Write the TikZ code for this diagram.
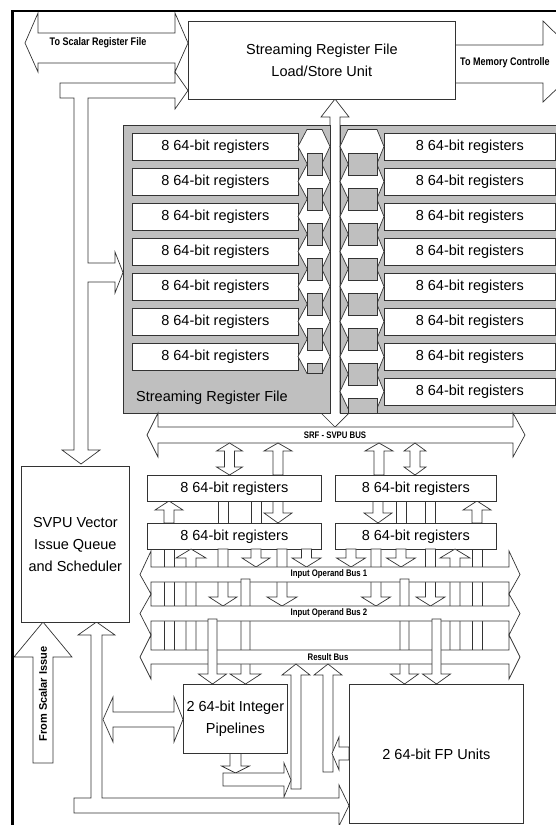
\documentclass[tikz,border=0pt]{standalone}
\usepackage{fontspec}
\setmainfont{Liberation Sans}
\usepackage{graphicx}
\newcommand\buslbl[1]{\scalebox{0.82}[1]{\bfseries\fontsize{9.5}{10}\selectfont #1}}
\newcommand\sidelbl[1]{\scalebox{0.82}[1]{\bfseries\fontsize{11}{12}\selectfont #1}}
% vertical single arrow: cx, half shaft, half head, y start, y head back, y tip
\newcommand\varr[6]{\filldraw[ar] ({#1-#2},#4) -- ({#1+#2},#4) -- ({#1+#2},#5) -- ({#1+#3},#5) -- (#1,#6) -- ({#1-#3},#5) -- ({#1-#2},#5) -- cycle;}
% vertical double arrow: cx, half shaft, half head, tip1, back1, back2, tip2
\newcommand\dvarr[7]{\filldraw[ar] (#1,#4) -- ({#1+#3},#5) -- ({#1+#2},#5) -- ({#1+#2},#6) -- ({#1+#3},#6) -- (#1,#7) -- ({#1-#3},#6) -- ({#1-#2},#6) -- ({#1-#2},#5) -- ({#1-#3},#5) -- cycle;}
\newcommand\vrect[4]{\filldraw[ar] (#1,#3) rectangle (#2,#4);}
\begin{document}
\begin{tikzpicture}[x=1pt,y=-1pt,
  ar/.style={draw=black!80,fill=white,line width=0.7pt},
  sq/.style={draw=black!80,fill=black!25,line width=0.7pt},
  box/.style={draw=black!80,fill=white,line width=0.7pt,inner sep=0pt,anchor=north west},
  reg/.style={box,minimum height=27pt,font=\fontsize{14.5}{16}\selectfont},
  vreg/.style={box,minimum height=26pt,font=\fontsize{14.5}{16}\selectfont},
  big/.style={font=\fontsize{14.5}{22}\selectfont,align=center}]
\useasboundingbox (0,0) rectangle (556,825);
\clip (0,0) rectangle (556,825);
% ---------- top arrows ----------
\filldraw[ar] (25,43) -- (38,13) -- (38,33) -- (175,33) -- (175,13) -- (188,43) -- (175,72) -- (175,63) -- (38,63) -- (38,72) -- cycle;
\node (tsr) at (98,43) {\sidelbl{To Scalar Register File}};
\filldraw[ar] (60,83) -- (175,83) -- (175,72) -- (188,90.5) -- (175,109) -- (175,98) -- (88,98) -- (88,263) -- (115,263) -- (115,252) -- (123,272.5) -- (115,293) -- (115,282) -- (88,282) -- (88,450) -- (100,450) -- (81,464) -- (62,450) -- (74,450) -- (74,98) -- (60,98) -- cycle;
\filldraw[ar] (455,45) -- (543,45) -- (543,21) -- (585,62) -- (543,102) -- (543,83) -- (455,83) -- cycle;
\node[anchor=west,inner sep=0pt] (tmc) at (460,63) {\sidelbl{To Memory Controlle}};
\filldraw[ar] (330,117) -- (321,117) -- (335,99) -- (349,117) -- (340,117) -- (340,413) -- (349,413) -- (335,427) -- (321,413) -- (330,413) -- cycle;
\node[box,minimum width=267pt,minimum height=78pt,align=center,font=\fontsize{14.5}{22}\selectfont] (ls) at (188,21) {Streaming Register File\\Load/Store Unit};
% ---------- streaming register file ----------
\filldraw[sq,fill=black!25] (123,125) rectangle (330,413);
\filldraw[sq,fill=black!25] (340,125) rectangle (575,413);
\foreach \i in {0,...,6} {
  \node[reg,minimum width=166pt] (l\i) at (132,{133+35*\i}) {8 64-bit registers};
  \pgfmathsetmacro\c{146.5+35*\i}
  \filldraw[ar] (298,\c) -- (307,\c-17) -- (322,\c-17) -- (330,\c) -- (322,\c+17) -- (307,\c+17) -- cycle;
}
\foreach \i in {0,...,7} {
  \node[reg,minimum width=171pt] (r\i) at (384,{133+35*\i}) {8 64-bit registers};
  \pgfmathsetmacro\c{146.5+35*\i}
  \filldraw[ar] (340,\c) -- (348,\c-17) -- (377,\c-17) -- (384,\c) -- (377,\c+17) -- (348,\c+17) -- cycle;
}
\foreach \i in {0,...,5} {\pgfmathsetmacro\c{146.5+35*\i}
  \filldraw[sq] (307,\c+6.5) rectangle (322,\c+28.5);}
\filldraw[sq] (307,363) rectangle (322,373.5);
\foreach \i in {0,...,6} {\pgfmathsetmacro\c{146.5+35*\i}
  \filldraw[sq] (348,\c+6.5) rectangle (377,\c+28.5);}
\filldraw[sq] (348,398) rectangle (377,413);
\node[anchor=west,inner sep=0pt,font=\fontsize{14.5}{16}\selectfont] (srfl) at (136,398) {Streaming Register File};
% ---------- SRF - SVPU bus ----------
\filldraw[ar] (147,435) -- (158,413) -- (158,427) -- (513,427) -- (513,413) -- (525,435) -- (513,457) -- (513,443) -- (158,443) -- (158,457) -- cycle;
\node (sbl) at (335,435) {\buslbl{SRF - SVPU BUS}};
% arrows bus -> upper registers
\dvarr{229.5}{5}{13}{443}{451}{467}{475}
\varr{278}{5}{14}{475}{451}{443}
\varr{379}{5}{14}{475}{451}{443}
\dvarr{415}{5}{11}{443}{451}{467}{475}
% between register boxes
\varr{169}{5}{14}{523}{510}{501}
\vrect{218}{228}{501}{523}
\vrect{251}{261}{501}{523}
\varr{278}{5}{14}{501}{513}{523}
\varr{378}{5}{14}{501}{513}{523}
\vrect{396}{406}{501}{523}
\vrect{425}{435}{501}{523}
\varr{477}{5}{14}{523}{510}{501}
\node[vreg,minimum width=174pt] (ul) at (147,475) {8 64-bit registers};
\node[vreg,minimum width=161pt] (ur) at (335,475) {8 64-bit registers};
\node[vreg,minimum width=174pt] (ll) at (147,523) {8 64-bit registers};
\node[vreg,minimum width=161pt] (lr) at (335,523) {8 64-bit registers};
% ---------- channels to the buses ----------
\vrect{164}{174}{549}{653}
\varr{191}{5}{15}{653}{558}{549}
\varr{223}{5}{14}{549}{597}{606}
\varr{256}{5}{14}{549}{558}{567}
\varr{282}{5}{15}{549}{597}{606}
\varr{306.5}{5}{14.5}{549}{558}{567}
\varr{351}{5}{14.5}{549}{558}{567}
\varr{376}{5}{14.5}{549}{597}{606}
\varr{401}{5}{14.5}{549}{558}{567}
\varr{430.5}{5}{14.5}{549}{597}{606}
\varr{455}{5}{15}{653}{558}{549}
\vrect{472}{482}{549}{653}
% bus 1
\filldraw[ar] (140,574.5) -- (151,551) -- (151,567) -- (509,567) -- (509,551) -- (520,574.5) -- (509,594) -- (509,582) -- (151,582) -- (151,594) -- cycle;
\varr{245.5}{4.5}{15.5}{579}{674}{684}
\varr{404.5}{4.5}{14}{579}{674}{684}
% bus 2
\filldraw[ar] (140,613.5) -- (151,594) -- (151,606) -- (509,606) -- (509,594) -- (520,613.5) -- (509,635) -- (509,621) -- (151,621) -- (151,635) -- cycle;
% result bus
\filldraw[ar] (140,657) -- (151,635) -- (151,650) -- (509,650) -- (509,635) -- (520,657) -- (509,679) -- (509,664) -- (151,664) -- (151,679) -- cycle;
\node (b1) at (329,574.5) {\buslbl{Input Operand Bus 1}};
\node (b2) at (329,613.5) {\buslbl{Input Operand Bus 2}};
\node (rb) at (328,657) {\buslbl{Result Bus}};
\varr{212.5}{4.5}{14}{619}{674}{684}
\varr{436.5}{4.5}{14}{619}{674}{684}
% ---------- execution units ----------
\varr{296}{5}{14}{789}{675}{664}
\varr{328}{5}{14}{772}{675}{664}
\filldraw[ar] (349,747) -- (339,747) -- (339,737) -- (332,753.5) -- (339,770) -- (339,760) -- (349,760) -- cycle;
\filldraw[ar] (103,719.5) -- (113,697) -- (113,712) -- (174,712) -- (174,697) -- (183,719.5) -- (174,742) -- (174,727) -- (113,727) -- (113,742) -- cycle;
\varr{235.5}{5.5}{14}{753}{766}{773}
\filldraw[ar] (223,773) -- (284,773) -- (284,763) -- (291,780) -- (284,797) -- (284,786) -- (223,786) -- cycle;
\filldraw[ar] (74,798) -- (91,798) -- (91,635) -- (78,635) -- (96.5,622) -- (115,635) -- (102,635) -- (102,798) -- (339,798) -- (339,785) -- (349,805.5) -- (339,826) -- (339,813) -- (74,813) -- cycle;
\varr{43}{10}{29}{763}{657}{622}
\node[rotate=90,font=\bfseries\fontsize{11}{12}\selectfont] (fsi) at (43,694) {From Scalar Issue};
\node[box,minimum width=104pt,minimum height=69pt] (ip) at (183,684) {};
\node[big] at (ip.center) {2 64-bit Integer\\Pipelines};
\node[box,minimum width=174pt,minimum height=139pt] (fp) at (349,684) {};
\node[big] at (fp.center) {2 64-bit FP Units};
\node[box,minimum width=108pt,minimum height=156pt] (sv) at (21,466) {};
\node[big] at (sv.center) {SVPU Vector\\Issue Queue\\and Scheduler};
% ---------- frame ----------
\draw[line width=2.6pt] (12.5,840) -- (12.5,11) -- (570,11);
\end{tikzpicture}
\end{document}
